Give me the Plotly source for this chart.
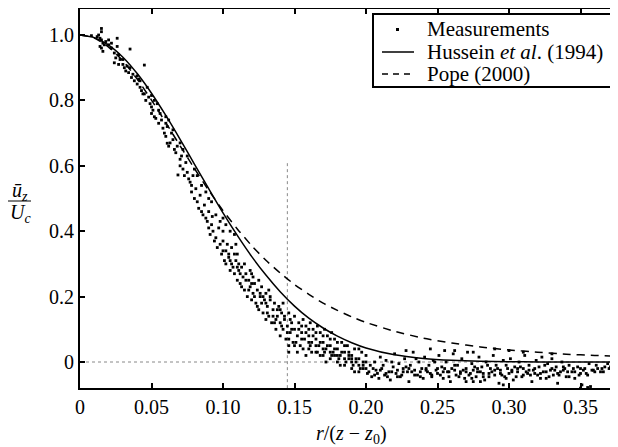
import plotly.graph_objects as go

# ---- Data ----
meas_x_a = [
    0.008, 0.012, 0.013, 0.014, 0.014, 0.015, 0.015, 0.015, 0.015, 0.016, 0.016, 0.017, 0.018, 0.020, 0.020,
    0.022, 0.022, 0.024, 0.024, 0.025, 0.026, 0.026, 0.027, 0.027, 0.028, 0.030, 0.030, 0.031, 0.032, 0.033,
    0.034, 0.035, 0.035, 0.036, 0.037, 0.038, 0.040, 0.040, 0.041, 0.042, 0.042, 0.043, 0.044, 0.045, 0.045,
    0.046, 0.047, 0.048, 0.049, 0.050, 0.050, 0.050, 0.051, 0.052, 0.052, 0.053, 0.054, 0.055, 0.055, 0.056,
    0.057, 0.058, 0.059, 0.060, 0.060, 0.060, 0.061, 0.061, 0.062, 0.062, 0.063, 0.064, 0.065, 0.065, 0.066,
    0.067, 0.068, 0.0685, 0.070, 0.070, 0.070, 0.071, 0.072, 0.072, 0.073, 0.074, 0.075, 0.075, 0.076, 0.077,
    0.078, 0.078, 0.079, 0.080, 0.080, 0.081, 0.082, 0.082, 0.083, 0.084, 0.085, 0.085, 0.086, 0.087, 0.088,
    0.088, 0.089, 0.090, 0.090, 0.090, 0.091, 0.092, 0.092, 0.0925, 0.093, 0.094, 0.095, 0.095, 0.096, 0.097,
    0.098, 0.098, 0.099, 0.100, 0.100, 0.100, 0.100, 0.101, 0.102, 0.102, 0.102, 0.103, 0.104, 0.105, 0.105,
    0.105, 0.106, 0.107, 0.108, 0.108, 0.108, 0.109, 0.110, 0.110, 0.110, 0.111, 0.112, 0.112, 0.113, 0.114,
    0.115, 0.115, 0.116, 0.117, 0.118, 0.118, 0.119, 0.120, 0.120, 0.120, 0.121, 0.122, 0.122, 0.123, 0.124,
    0.125, 0.125, 0.126, 0.127, 0.127, 0.128, 0.129, 0.130, 0.130, 0.130, 0.131, 0.132, 0.132, 0.133, 0.134,
    0.135, 0.135, 0.136, 0.137, 0.137, 0.138, 0.139, 0.140, 0.140, 0.140, 0.141, 0.142, 0.142, 0.143, 0.144,
    0.145, 0.145, 0.146, 0.146, 0.146, 0.147, 0.147, 0.148, 0.149, 0.150, 0.150, 0.150, 0.152, 0.152, 0.153,
    0.154, 0.155, 0.155, 0.155, 0.156, 0.157, 0.158, 0.158, 0.160, 0.160, 0.160, 0.160, 0.161, 0.162, 0.162,
    0.163, 0.165, 0.165, 0.165, 0.165, 0.166, 0.167, 0.168, 0.168, 0.170, 0.170, 0.170, 0.170, 0.171, 0.172,
    0.172, 0.173, 0.175, 0.175, 0.175, 0.175, 0.176, 0.177, 0.178, 0.178, 0.180, 0.180, 0.180, 0.180, 0.182,
    0.182, 0.183, 0.185, 0.185, 0.185, 0.185, 0.187, 0.188, 0.188, 0.190, 0.190, 0.190, 0.190, 0.192, 0.192,
    0.193, 0.195, 0.195, 0.195, 0.195, 0.197, 0.198, 0.198, 0.200, 0.200, 0.200,
    0.201, 0.203, 0.204, 0.205, 0.206, 0.207, 0.208, 0.209, 0.210, 0.211, 0.212, 0.213, 0.214, 0.215, 0.216,
    0.217, 0.218, 0.219, 0.220, 0.221, 0.222, 0.223, 0.224, 0.225, 0.226, 0.227, 0.228, 0.228, 0.229, 0.230,
    0.231, 0.232, 0.233, 0.234, 0.235, 0.236, 0.237, 0.238, 0.239, 0.240, 0.241, 0.242, 0.243, 0.244, 0.245,
    0.245, 0.246, 0.247, 0.248, 0.249, 0.250, 0.251, 0.252, 0.253, 0.254, 0.255, 0.255, 0.256, 0.257, 0.258,
    0.259, 0.260, 0.261, 0.262, 0.262, 0.263, 0.264, 0.265, 0.266, 0.267, 0.268, 0.269, 0.270, 0.270, 0.271,
    0.272, 0.273, 0.274, 0.275, 0.275, 0.275, 0.276, 0.277, 0.278, 0.279, 0.280, 0.280, 0.281, 0.282, 0.283,
    0.284, 0.285, 0.286, 0.287, 0.288, 0.289, 0.290, 0.290, 0.291, 0.292, 0.293, 0.294, 0.295, 0.296, 0.296,
    0.297, 0.298, 0.299, 0.300, 0.300, 0.301, 0.302, 0.303, 0.304, 0.305, 0.306, 0.307, 0.308, 0.309, 0.310,
    0.310, 0.311, 0.312, 0.313, 0.314, 0.315, 0.316, 0.317, 0.318, 0.319, 0.320, 0.321, 0.322, 0.323, 0.324,
    0.325, 0.326, 0.327, 0.328, 0.329, 0.330, 0.330, 0.331, 0.332, 0.333, 0.334, 0.335, 0.336, 0.337, 0.338,
    0.339, 0.340, 0.341, 0.342, 0.344, 0.345, 0.346, 0.348, 0.349, 0.350, 0.350, 0.351, 0.352, 0.353, 0.355,
    0.355, 0.356, 0.357, 0.359, 0.360, 0.361, 0.364, 0.365, 0.367, 0.369, 0.370, 0.373, 0.374, 0.376,
]
meas_y_a = [
    0.998, 0.995, 1.000, 0.990, 0.965, 1.010, 1.020, 0.985, 0.960, 0.975, 0.950, 0.970, 0.980, 0.970, 0.985,
    0.960, 0.975, 0.945, 0.915, 0.930, 0.990, 0.965, 0.940, 0.910, 0.925, 0.910, 0.925, 0.900, 0.890, 0.905,
    0.885, 0.957, 0.900, 0.870, 0.880, 0.860, 0.850, 0.875, 0.865, 0.840, 0.860, 0.830, 0.820, 0.908, 0.820,
    0.800, 0.840, 0.810, 0.790, 0.780, 0.760, 0.815, 0.770, 0.750, 0.800, 0.745, 0.790, 0.730, 0.770, 0.760,
    0.740, 0.715, 0.700, 0.690, 0.730, 0.750, 0.720, 0.669, 0.660, 0.740, 0.670, 0.700, 0.680, 0.710, 0.650,
    0.640, 0.660, 0.572, 0.620, 0.600, 0.670, 0.630, 0.590, 0.650, 0.570, 0.610, 0.580, 0.630, 0.560, 0.550,
    0.540, 0.520, 0.570, 0.500, 0.590, 0.530, 0.490, 0.570, 0.470, 0.510, 0.460, 0.540, 0.450, 0.480, 0.440,
    0.520, 0.430, 0.410, 0.460, 0.500, 0.390, 0.420, 0.490, 0.445, 0.400, 0.370, 0.380, 0.450, 0.350, 0.410,
    0.360, 0.430, 0.330, 0.340, 0.400, 0.370, 0.440, 0.310, 0.300, 0.340, 0.420, 0.360, 0.320, 0.280, 0.310,
    0.400, 0.350, 0.290, 0.270, 0.330, 0.390, 0.310, 0.250, 0.330, 0.290, 0.280, 0.240, 0.270, 0.290, 0.260,
    0.220, 0.300, 0.270, 0.200, 0.250, 0.220, 0.230, 0.190, 0.270, 0.240, 0.210, 0.240, 0.200, 0.180, 0.220,
    0.160, 0.250, 0.200, 0.230, 0.180, 0.150, 0.190, 0.130, 0.210, 0.180, 0.170, 0.140, 0.220, 0.200, 0.120,
    0.160, 0.140, 0.180, 0.100, 0.130, 0.140, 0.170, 0.080, 0.120, 0.160, 0.150, 0.100, 0.180, 0.130, 0.070,
    0.110, 0.090, 0.150, 0.050, 0.030, 0.090, 0.130, 0.120, 0.060, 0.100, 0.140, 0.050, 0.080, 0.030, 0.120,
    0.050, 0.090, 0.070, 0.110, 0.130, 0.070, 0.110, 0.020, 0.040, 0.080, 0.100, 0.060, 0.120, 0.060, 0.030,
    0.100, 0.030, 0.070, 0.090, 0.050, 0.110, 0.050, 0.090, 0.020, 0.020, 0.060, 0.080, 0.040, 0.100, 0.040,
    0.000, 0.080, 0.010, 0.050, 0.070, 0.030, 0.090, 0.030, 0.070, 0.020, 0.000, 0.040, 0.060, 0.020, 0.020,
    -0.010, 0.060, -0.010, 0.030, 0.050, 0.010, 0.050, 0.010, 0.030, -0.020, 0.020, 0.000, 0.010, 0.040, -0.030,
    0.000, -0.030, 0.010, 0.040, -0.010, 0.030, -0.010, -0.020, -0.020, 0.020, 0.000,
    -0.035, -0.010, -0.045, -0.020, 0.000, -0.025, -0.035, -0.050, 0.015, -0.020, -0.010, -0.040, 0.005, -0.045, -0.030,
    -0.055, 0.000, -0.015, 0.025, -0.035, -0.025, -0.005, -0.045, -0.040, -0.020, 0.010, -0.015, 0.035, -0.030, -0.060,
    -0.010, -0.030, 0.030, -0.025, 0.010, -0.040, 0.000, -0.045, -0.020, -0.050, 0.015, -0.020, -0.030, -0.010, -0.035,
    0.040, -0.045, 0.005, 0.000, -0.025, -0.035, 0.020, -0.040, -0.015, -0.050, -0.020, 0.035, 0.000, -0.030, -0.030,
    -0.060, -0.020, 0.025, -0.010, 0.035, -0.040, -0.010, -0.045, -0.030, 0.010, -0.025, -0.050, -0.020, -0.060, 0.030,
    -0.040, -0.035, -0.005, -0.025, 0.030, -0.060, -0.015, -0.045, -0.030, 0.015, -0.030, -0.060, -0.015, -0.045, -0.055,
    0.000, -0.010, -0.035, -0.020, -0.030, 0.020, -0.040, 0.040, -0.010, -0.020, -0.065, -0.025, -0.040, 0.005, -0.070,
    -0.045, -0.010, -0.020, -0.035, 0.035, 0.010, -0.025, -0.055, -0.015, -0.045, -0.030, 0.000, -0.015, -0.045, -0.020,
    0.030, 0.020, -0.030, -0.035, -0.010, -0.040, -0.060, -0.025, -0.020, 0.005, -0.040, -0.015, -0.035, 0.015, -0.030,
    -0.010, -0.050, -0.005, -0.045, -0.025, 0.010, 0.025, -0.040, -0.025, -0.015, -0.065, -0.040, -0.030, 0.000, -0.015,
    -0.020, -0.045, -0.030, -0.010, -0.030, -0.020, -0.050, -0.015, -0.040, -0.035, -0.080, -0.070, -0.025, -0.020, -0.040,
    -0.078, -0.005, -0.075, -0.025, -0.030, -0.010, -0.030, -0.020, -0.015, -0.005, -0.020, -0.010, -0.010, -0.015,
]
meas_x_b = [
    0.104, 0.106, 0.109, 0.111, 0.113, 0.116, 0.119, 0.121, 0.124, 0.126, 0.128, 0.131, 0.133, 0.136, 0.138,
    0.141, 0.143, 0.146, 0.148, 0.151, 0.153, 0.156, 0.158, 0.161, 0.163, 0.166, 0.168, 0.171, 0.173, 0.176,
    0.178, 0.181, 0.183, 0.186, 0.188, 0.191, 0.193, 0.196, 0.198,
    0.202, 0.206, 0.210, 0.214, 0.218, 0.222, 0.226, 0.230, 0.234, 0.238, 0.242, 0.246, 0.250, 0.254, 0.258,
    0.262, 0.266, 0.270, 0.274, 0.278, 0.282, 0.286, 0.290, 0.294, 0.298, 0.302, 0.306, 0.310, 0.314, 0.318,
    0.322, 0.326, 0.330, 0.334, 0.338, 0.342, 0.346, 0.350, 0.354, 0.358, 0.362, 0.366, 0.371,
]
meas_y_b = [
    0.330, 0.300, 0.360, 0.300, 0.230, 0.250, 0.280, 0.260, 0.170, 0.210, 0.200, 0.150, 0.190, 0.120, 0.160,
    0.110, 0.140, 0.070, 0.100, 0.060, 0.100, 0.040, 0.090, 0.050, 0.080, 0.030, 0.060, 0.030, 0.050, 0.020,
    0.040, 0.010, 0.030, 0.000, 0.020, -0.010, 0.010, -0.020, 0.000,
    -0.030, -0.040, -0.025, -0.035, -0.030, -0.045, -0.030, -0.020, -0.040, -0.030, -0.025, -0.040, -0.020, -0.030, -0.045,
    -0.025, -0.035, -0.030, -0.050, -0.020, -0.035, -0.045, -0.025, -0.035, -0.050, -0.030, -0.020, -0.040, -0.025, -0.035,
    -0.050, -0.030, -0.020, -0.035, -0.025, -0.045, -0.030, -0.020, -0.035, -0.025, -0.020, -0.030, -0.015,
]
meas_x = meas_x_a + meas_x_b
meas_y = meas_y_a + meas_y_b

curve_x = [0.00, 0.01, 0.02, 0.03, 0.04, 0.05, 0.06, 0.07, 0.08, 0.09, 0.10, 0.11, 0.12, 0.13, 0.14,
           0.15, 0.16, 0.17, 0.18, 0.19, 0.20, 0.22, 0.24, 0.26, 0.28, 0.30, 0.32, 0.34, 0.36, 0.38]
hussein_y = [1.000, 0.992, 0.969, 0.932, 0.882, 0.822, 0.754, 0.681, 0.605, 0.530, 0.456, 0.387, 0.323, 0.266, 0.215,
             0.171, 0.134, 0.104, 0.079, 0.059, 0.043, 0.022, 0.011, 0.005, 0.002, 0.001, 0.000, 0.000, 0.000, 0.000]
pope_y = [1.000, 0.991, 0.963, 0.921, 0.865, 0.801, 0.732, 0.661, 0.592, 0.525, 0.463, 0.407, 0.356, 0.311, 0.272,
          0.237, 0.207, 0.180, 0.158, 0.138, 0.121, 0.094, 0.073, 0.058, 0.046, 0.037, 0.030, 0.024, 0.020, 0.017]

series_names = ["Measurements", "Hussein <i>et al</i>. (1994)", "Pope (2000)"]

x_tickvals = [0, 0.05, 0.10, 0.15, 0.20, 0.25, 0.30, 0.35]
x_ticktext = ["0", "0.05", "0.10", "0.15", "0.20", "0.25", "0.30", "0.35"]
y_tickvals = [0, 0.2, 0.4, 0.6, 0.8, 1.0]
y_ticktext = ["0", "0.2", "0.4", "0.6", "0.8", "1.0"]

marker_x = 0.145   # dotted guide position
marker_ytop = 0.61

# ---- Figure ----
FONT = "Liberation Serif"
OFF = 8  # page body margin offset
W, H = 618 - OFF, 447 - OFF
ML, MR, MT, MB = 80 - OFF, 0, 9 - OFF, 59
PW, PH = W - ML - MR, H - MT - MB

fig = go.Figure()

fig.add_trace(go.Scatter(
    x=meas_x, y=meas_y, mode="markers", name=series_names[0], showlegend=False,
    marker=dict(symbol="square", size=2.8, color="black", line=dict(width=0)),
))
fig.add_trace(go.Scatter(
    x=curve_x, y=hussein_y, mode="lines", name=series_names[1], showlegend=False,
    line=dict(color="black", width=1.5, shape="spline", smoothing=0.6),
))
fig.add_trace(go.Scatter(
    x=curve_x, y=pope_y, mode="lines", name=series_names[2], showlegend=False,
    line=dict(color="black", width=1.5, dash="8px,6px", shape="spline", smoothing=0.6),
))

# dotted guide lines
fig.add_shape(type="line", xref="x", yref="y", x0=0, x1=0.38, y0=0, y1=0,
              line=dict(color="#888888", width=1, dash="dot"), layer="below")
fig.add_shape(type="line", xref="x", yref="y", x0=marker_x, x1=marker_x, y0=-0.08, y1=marker_ytop,
              line=dict(color="#888888", width=1, dash="dot"), layer="below")

def px_x(p):
    return (p - OFF - ML) / PW

def px_y(p):
    return 1 - (p - OFF - MT) / PH

# ---- legend box (drawn to match the compact reference legend) ----
fig.add_shape(type="rect", xref="paper", yref="paper",
              x0=px_x(373), x1=px_x(640), y0=px_y(87), y1=px_y(14),
              line=dict(color="black", width=2), fillcolor="white")
fig.add_shape(type="rect", xref="paper", yref="paper",
              x0=px_x(396), x1=px_x(399), y0=px_y(31), y1=px_y(28),
              line=dict(width=0), fillcolor="black")
fig.add_shape(type="line", xref="paper", yref="paper",
              x0=px_x(382), x1=px_x(414), y0=px_y(52), y1=px_y(52),
              line=dict(color="black", width=1.5))
fig.add_shape(type="line", xref="paper", yref="paper",
              x0=px_x(382), x1=px_x(414), y0=px_y(74), y1=px_y(74),
              line=dict(color="black", width=1.5, dash="6px,5px"))
for name, ypx in zip(series_names, [29, 52, 74]):
    fig.add_annotation(xref="paper", yref="paper", x=px_x(425), y=px_y(ypx),
                       text=name, showarrow=False, xanchor="left", yanchor="middle",
                       font=dict(family=FONT, size=21, color="black"))

# y-axis label as a fraction
fig.add_annotation(xref="paper", yref="paper", x=px_x(20), y=px_y(191),
                   text="<i>ū</i><sub><i>z</i></sub>", showarrow=False,
                   font=dict(family=FONT, size=20, color="black"), xanchor="center", yanchor="middle")
fig.add_annotation(xref="paper", yref="paper", x=px_x(20), y=px_y(213),
                   text="<i>U</i><sub><i>c</i></sub>", showarrow=False,
                   font=dict(family=FONT, size=20, color="black"), xanchor="center", yanchor="middle")
fig.add_shape(type="line", xref="paper", yref="paper", x0=px_x(8), x1=px_x(31), y0=px_y(201), y1=px_y(201),
              line=dict(color="black", width=1))

# x-axis label
fig.add_annotation(xref="paper", yref="paper", x=px_x(351), y=px_y(434),
                   text="<i>r</i>/(<i>z</i> − <i>z</i><sub>0</sub>)", showarrow=False,
                   font=dict(family=FONT, size=20, color="black"), xanchor="center", yanchor="middle")

fig.update_layout(
    width=W, height=H,
    margin=dict(l=ML, r=MR, t=MT, b=MB, pad=0),
    paper_bgcolor="white", plot_bgcolor="white",
    font=dict(family=FONT, size=20, color="black"),
    showlegend=False,
    xaxis=dict(range=[0, PW / 1430.0], tickvals=x_tickvals, ticktext=x_ticktext,
               showgrid=False, zeroline=False, showline=True, linecolor="black", linewidth=2,
               mirror="ticks", ticks="inside", ticklen=5, tickwidth=1.5, tickcolor="black",
               tickfont=dict(family=FONT, size=20, color="black")),
    yaxis=dict(range=[-26 / 327.0, 1 + 26 / 327.0], tickvals=y_tickvals, ticktext=y_ticktext,
               showgrid=False, zeroline=False, showline=True, linecolor="black", linewidth=2,
               mirror=False, ticks="inside", ticklen=5, tickwidth=1.5, tickcolor="black",
               tickfont=dict(family=FONT, size=20, color="black")),
)

fig.write_html("out.html")
